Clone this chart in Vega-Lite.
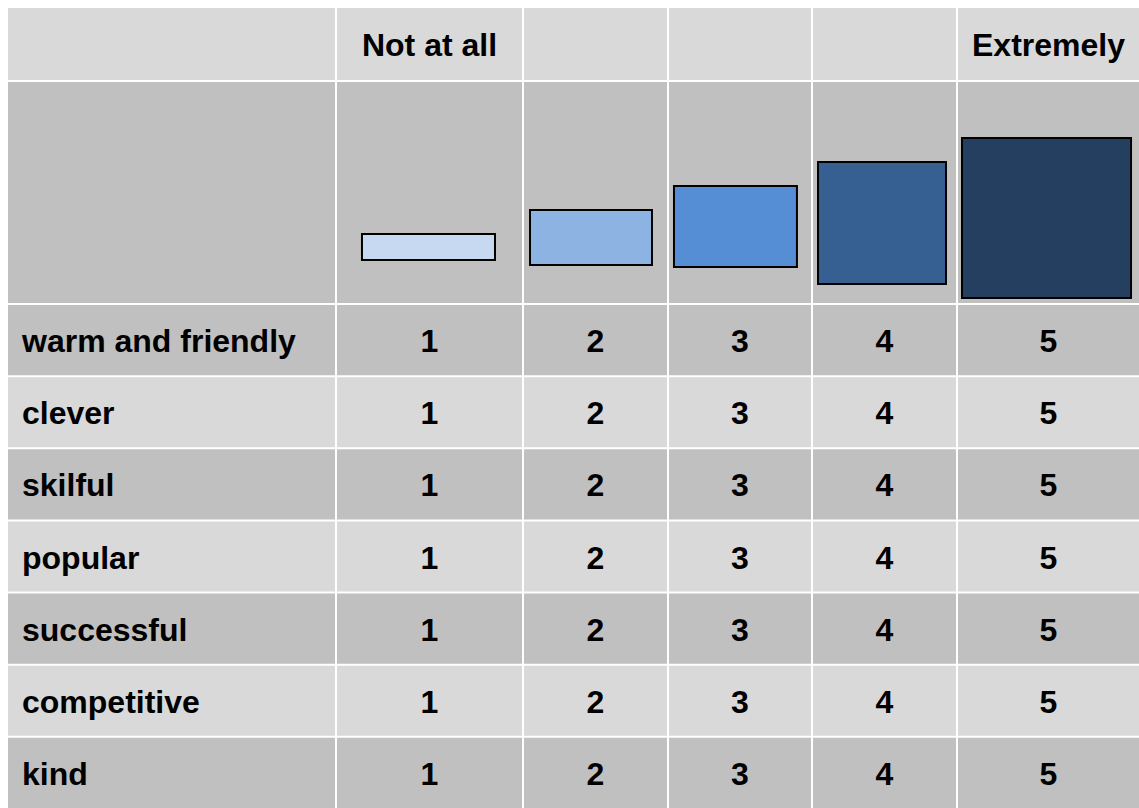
{
  "$schema": "https://vega.github.io/schema/vega-lite/v6.json",
  "background": "#ffffff",
  "padding": {"left": 8, "top": 8, "right": 0, "bottom": 0},
  "spacing": 2,
  "columns": 6,
  "bounds": "flush",
  "config": {
    "view": {"stroke": null},
    "concat": {"spacing": 2},
    "text": {"font": "Liberation Sans", "fontWeight": "bold", "fontSize": 32, "color": "#000000", "baseline": "middle", "dy": 2}
  },
  "resolve": {"scale": {"x": "independent", "y": "independent", "fill": "independent"}},
  "datasets": {
    "header": [
      {"col": 0, "label": ""},
      {"col": 1, "label": "Not at all"},
      {"col": 2, "label": ""},
      {"col": 3, "label": ""},
      {"col": 4, "label": ""},
      {"col": 5, "label": "Extremely"}
    ],
    "shapes": [
      {"level": 1, "left": 0.135, "right": 0.854, "top": 0.688, "bottom": 0.805},
      {"level": 2, "left": 0.042, "right": 0.895, "top": 0.579, "bottom": 0.828},
      {"level": 3, "left": 0.035, "right": 0.901, "top": 0.471, "bottom": 0.837},
      {"level": 4, "left": 0.035, "right": 0.93, "top": 0.362, "bottom": 0.914},
      {"level": 5, "left": 0.022, "right": 0.956, "top": 0.253, "bottom": 0.977}
    ],
    "cells": [
      {"trait": "warm and friendly", "col": 0, "label": "warm and friendly", "shade": "dark"},
      {"trait": "warm and friendly", "col": 1, "label": "1", "shade": "dark"},
      {"trait": "warm and friendly", "col": 2, "label": "2", "shade": "dark"},
      {"trait": "warm and friendly", "col": 3, "label": "3", "shade": "dark"},
      {"trait": "warm and friendly", "col": 4, "label": "4", "shade": "dark"},
      {"trait": "warm and friendly", "col": 5, "label": "5", "shade": "dark"},
      {"trait": "clever", "col": 0, "label": "clever", "shade": "light"},
      {"trait": "clever", "col": 1, "label": "1", "shade": "light"},
      {"trait": "clever", "col": 2, "label": "2", "shade": "light"},
      {"trait": "clever", "col": 3, "label": "3", "shade": "light"},
      {"trait": "clever", "col": 4, "label": "4", "shade": "light"},
      {"trait": "clever", "col": 5, "label": "5", "shade": "light"},
      {"trait": "skilful", "col": 0, "label": "skilful", "shade": "dark"},
      {"trait": "skilful", "col": 1, "label": "1", "shade": "dark"},
      {"trait": "skilful", "col": 2, "label": "2", "shade": "dark"},
      {"trait": "skilful", "col": 3, "label": "3", "shade": "dark"},
      {"trait": "skilful", "col": 4, "label": "4", "shade": "dark"},
      {"trait": "skilful", "col": 5, "label": "5", "shade": "dark"},
      {"trait": "popular", "col": 0, "label": "popular", "shade": "light"},
      {"trait": "popular", "col": 1, "label": "1", "shade": "light"},
      {"trait": "popular", "col": 2, "label": "2", "shade": "light"},
      {"trait": "popular", "col": 3, "label": "3", "shade": "light"},
      {"trait": "popular", "col": 4, "label": "4", "shade": "light"},
      {"trait": "popular", "col": 5, "label": "5", "shade": "light"},
      {"trait": "successful", "col": 0, "label": "successful", "shade": "dark"},
      {"trait": "successful", "col": 1, "label": "1", "shade": "dark"},
      {"trait": "successful", "col": 2, "label": "2", "shade": "dark"},
      {"trait": "successful", "col": 3, "label": "3", "shade": "dark"},
      {"trait": "successful", "col": 4, "label": "4", "shade": "dark"},
      {"trait": "successful", "col": 5, "label": "5", "shade": "dark"},
      {"trait": "competitive", "col": 0, "label": "competitive", "shade": "light"},
      {"trait": "competitive", "col": 1, "label": "1", "shade": "light"},
      {"trait": "competitive", "col": 2, "label": "2", "shade": "light"},
      {"trait": "competitive", "col": 3, "label": "3", "shade": "light"},
      {"trait": "competitive", "col": 4, "label": "4", "shade": "light"},
      {"trait": "competitive", "col": 5, "label": "5", "shade": "light"},
      {"trait": "kind", "col": 0, "label": "kind", "shade": "dark"},
      {"trait": "kind", "col": 1, "label": "1", "shade": "dark"},
      {"trait": "kind", "col": 2, "label": "2", "shade": "dark"},
      {"trait": "kind", "col": 3, "label": "3", "shade": "dark"},
      {"trait": "kind", "col": 4, "label": "4", "shade": "dark"},
      {"trait": "kind", "col": 5, "label": "5", "shade": "dark"}
    ]
  },
  "concat": [
    {"width": 327, "height": 72, "view": {"fill": "#d9d9d9", "stroke": null}, "data": {"name": "header"}, "transform": [{"filter": "datum.col === 0"}], "mark": {"type": "text"}, "encoding": {"text": {"field": "label"}}},
    {"width": 185, "height": 72, "view": {"fill": "#d9d9d9", "stroke": null}, "data": {"name": "header"}, "transform": [{"filter": "datum.col === 1"}], "mark": {"type": "text"}, "encoding": {"text": {"field": "label"}}},
    {"width": 143, "height": 72, "view": {"fill": "#d9d9d9", "stroke": null}, "data": {"name": "header"}, "transform": [{"filter": "datum.col === 2"}], "mark": {"type": "text"}, "encoding": {"text": {"field": "label"}}},
    {"width": 142, "height": 72, "view": {"fill": "#d9d9d9", "stroke": null}, "data": {"name": "header"}, "transform": [{"filter": "datum.col === 3"}], "mark": {"type": "text"}, "encoding": {"text": {"field": "label"}}},
    {"width": 143, "height": 72, "view": {"fill": "#d9d9d9", "stroke": null}, "data": {"name": "header"}, "transform": [{"filter": "datum.col === 4"}], "mark": {"type": "text"}, "encoding": {"text": {"field": "label"}}},
    {"width": 181, "height": 72, "view": {"fill": "#d9d9d9", "stroke": null}, "data": {"name": "header"}, "transform": [{"filter": "datum.col === 5"}], "mark": {"type": "text"}, "encoding": {"text": {"field": "label"}}},

    {"width": 327, "height": 221, "view": {"fill": "#c0c0c0", "stroke": null}, "data": {"name": "shapes"}, "transform": [{"filter": "datum.level === 0"}], "mark": {"type": "rect", "stroke": "#000000", "strokeWidth": 2},
     "encoding": {"x": {"field": "left", "type": "quantitative", "scale": {"domain": [0, 1], "nice": false, "zero": false}, "axis": null}, "x2": {"field": "right"}, "y": {"field": "top", "type": "quantitative", "scale": {"domain": [0, 1], "nice": false, "zero": false, "reverse": true}, "axis": null}, "y2": {"field": "bottom"},
      "fill": {"field": "level", "type": "ordinal", "scale": {"domain": [1, 2, 3, 4, 5], "range": ["#c6d9f1", "#8db3e2", "#558ed5", "#376092", "#243f60"]}, "legend": null}}},
    {"width": 185, "height": 221, "view": {"fill": "#c0c0c0", "stroke": null}, "data": {"name": "shapes"}, "transform": [{"filter": "datum.level === 1"}], "mark": {"type": "rect", "stroke": "#000000", "strokeWidth": 2},
     "encoding": {"x": {"field": "left", "type": "quantitative", "scale": {"domain": [0, 1], "nice": false, "zero": false}, "axis": null}, "x2": {"field": "right"}, "y": {"field": "top", "type": "quantitative", "scale": {"domain": [0, 1], "nice": false, "zero": false, "reverse": true}, "axis": null}, "y2": {"field": "bottom"},
      "fill": {"field": "level", "type": "ordinal", "scale": {"domain": [1, 2, 3, 4, 5], "range": ["#c6d9f1", "#8db3e2", "#558ed5", "#376092", "#243f60"]}, "legend": null}}},
    {"width": 143, "height": 221, "view": {"fill": "#c0c0c0", "stroke": null}, "data": {"name": "shapes"}, "transform": [{"filter": "datum.level === 2"}], "mark": {"type": "rect", "stroke": "#000000", "strokeWidth": 2},
     "encoding": {"x": {"field": "left", "type": "quantitative", "scale": {"domain": [0, 1], "nice": false, "zero": false}, "axis": null}, "x2": {"field": "right"}, "y": {"field": "top", "type": "quantitative", "scale": {"domain": [0, 1], "nice": false, "zero": false, "reverse": true}, "axis": null}, "y2": {"field": "bottom"},
      "fill": {"field": "level", "type": "ordinal", "scale": {"domain": [1, 2, 3, 4, 5], "range": ["#c6d9f1", "#8db3e2", "#558ed5", "#376092", "#243f60"]}, "legend": null}}},
    {"width": 142, "height": 221, "view": {"fill": "#c0c0c0", "stroke": null}, "data": {"name": "shapes"}, "transform": [{"filter": "datum.level === 3"}], "mark": {"type": "rect", "stroke": "#000000", "strokeWidth": 2},
     "encoding": {"x": {"field": "left", "type": "quantitative", "scale": {"domain": [0, 1], "nice": false, "zero": false}, "axis": null}, "x2": {"field": "right"}, "y": {"field": "top", "type": "quantitative", "scale": {"domain": [0, 1], "nice": false, "zero": false, "reverse": true}, "axis": null}, "y2": {"field": "bottom"},
      "fill": {"field": "level", "type": "ordinal", "scale": {"domain": [1, 2, 3, 4, 5], "range": ["#c6d9f1", "#8db3e2", "#558ed5", "#376092", "#243f60"]}, "legend": null}}},
    {"width": 143, "height": 221, "view": {"fill": "#c0c0c0", "stroke": null}, "data": {"name": "shapes"}, "transform": [{"filter": "datum.level === 4"}], "mark": {"type": "rect", "stroke": "#000000", "strokeWidth": 2},
     "encoding": {"x": {"field": "left", "type": "quantitative", "scale": {"domain": [0, 1], "nice": false, "zero": false}, "axis": null}, "x2": {"field": "right"}, "y": {"field": "top", "type": "quantitative", "scale": {"domain": [0, 1], "nice": false, "zero": false, "reverse": true}, "axis": null}, "y2": {"field": "bottom"},
      "fill": {"field": "level", "type": "ordinal", "scale": {"domain": [1, 2, 3, 4, 5], "range": ["#c6d9f1", "#8db3e2", "#558ed5", "#376092", "#243f60"]}, "legend": null}}},
    {"width": 181, "height": 221, "view": {"fill": "#c0c0c0", "stroke": null}, "data": {"name": "shapes"}, "transform": [{"filter": "datum.level === 5"}], "mark": {"type": "rect", "stroke": "#000000", "strokeWidth": 2},
     "encoding": {"x": {"field": "left", "type": "quantitative", "scale": {"domain": [0, 1], "nice": false, "zero": false}, "axis": null}, "x2": {"field": "right"}, "y": {"field": "top", "type": "quantitative", "scale": {"domain": [0, 1], "nice": false, "zero": false, "reverse": true}, "axis": null}, "y2": {"field": "bottom"},
      "fill": {"field": "level", "type": "ordinal", "scale": {"domain": [1, 2, 3, 4, 5], "range": ["#c6d9f1", "#8db3e2", "#558ed5", "#376092", "#243f60"]}, "legend": null}}},

    {"width": 327, "height": 503, "data": {"name": "cells"}, "transform": [{"filter": "datum.col === 0"}],
     "encoding": {"y": {"field": "trait", "type": "nominal", "sort": ["warm and friendly", "clever", "skilful", "popular", "successful", "competitive", "kind"], "axis": null, "scale": {"paddingInner": 0.0278, "paddingOuter": 0}}},
     "layer": [
       {"mark": {"type": "rect"}, "encoding": {"fill": {"field": "shade", "type": "nominal", "scale": {"domain": ["light", "dark"], "range": ["#d9d9d9", "#c0c0c0"]}, "legend": null}}},
       {"mark": {"type": "text", "align": "left", "x": 14}, "encoding": {"text": {"field": "label"}}}
     ]},
    {"width": 185, "height": 503, "data": {"name": "cells"}, "transform": [{"filter": "datum.col === 1"}],
     "encoding": {"y": {"field": "trait", "type": "nominal", "sort": ["warm and friendly", "clever", "skilful", "popular", "successful", "competitive", "kind"], "axis": null, "scale": {"paddingInner": 0.0278, "paddingOuter": 0}}},
     "layer": [
       {"mark": {"type": "rect"}, "encoding": {"fill": {"field": "shade", "type": "nominal", "scale": {"domain": ["light", "dark"], "range": ["#d9d9d9", "#c0c0c0"]}, "legend": null}}},
       {"mark": {"type": "text"}, "encoding": {"text": {"field": "label"}}}
     ]},
    {"width": 143, "height": 503, "data": {"name": "cells"}, "transform": [{"filter": "datum.col === 2"}],
     "encoding": {"y": {"field": "trait", "type": "nominal", "sort": ["warm and friendly", "clever", "skilful", "popular", "successful", "competitive", "kind"], "axis": null, "scale": {"paddingInner": 0.0278, "paddingOuter": 0}}},
     "layer": [
       {"mark": {"type": "rect"}, "encoding": {"fill": {"field": "shade", "type": "nominal", "scale": {"domain": ["light", "dark"], "range": ["#d9d9d9", "#c0c0c0"]}, "legend": null}}},
       {"mark": {"type": "text"}, "encoding": {"text": {"field": "label"}}}
     ]},
    {"width": 142, "height": 503, "data": {"name": "cells"}, "transform": [{"filter": "datum.col === 3"}],
     "encoding": {"y": {"field": "trait", "type": "nominal", "sort": ["warm and friendly", "clever", "skilful", "popular", "successful", "competitive", "kind"], "axis": null, "scale": {"paddingInner": 0.0278, "paddingOuter": 0}}},
     "layer": [
       {"mark": {"type": "rect"}, "encoding": {"fill": {"field": "shade", "type": "nominal", "scale": {"domain": ["light", "dark"], "range": ["#d9d9d9", "#c0c0c0"]}, "legend": null}}},
       {"mark": {"type": "text"}, "encoding": {"text": {"field": "label"}}}
     ]},
    {"width": 143, "height": 503, "data": {"name": "cells"}, "transform": [{"filter": "datum.col === 4"}],
     "encoding": {"y": {"field": "trait", "type": "nominal", "sort": ["warm and friendly", "clever", "skilful", "popular", "successful", "competitive", "kind"], "axis": null, "scale": {"paddingInner": 0.0278, "paddingOuter": 0}}},
     "layer": [
       {"mark": {"type": "rect"}, "encoding": {"fill": {"field": "shade", "type": "nominal", "scale": {"domain": ["light", "dark"], "range": ["#d9d9d9", "#c0c0c0"]}, "legend": null}}},
       {"mark": {"type": "text"}, "encoding": {"text": {"field": "label"}}}
     ]},
    {"width": 181, "height": 503, "data": {"name": "cells"}, "transform": [{"filter": "datum.col === 5"}],
     "encoding": {"y": {"field": "trait", "type": "nominal", "sort": ["warm and friendly", "clever", "skilful", "popular", "successful", "competitive", "kind"], "axis": null, "scale": {"paddingInner": 0.0278, "paddingOuter": 0}}},
     "layer": [
       {"mark": {"type": "rect"}, "encoding": {"fill": {"field": "shade", "type": "nominal", "scale": {"domain": ["light", "dark"], "range": ["#d9d9d9", "#c0c0c0"]}, "legend": null}}},
       {"mark": {"type": "text"}, "encoding": {"text": {"field": "label"}}}
     ]}
  ]
}
